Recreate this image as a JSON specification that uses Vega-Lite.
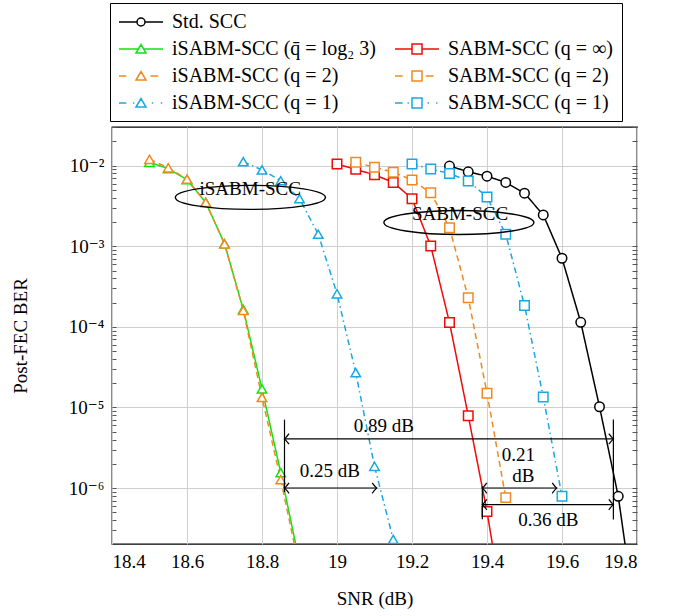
{
  "$schema": "https://vega.github.io/schema/vega-lite/v6.json",
  "width": 525,
  "height": 417,
  "autosize": "none",
  "padding": {"left": 112, "top": 127, "right": 44, "bottom": 72},
  "config": {
    "font": "Liberation Serif, DejaVu Serif, serif",
    "view": {"stroke": "black", "strokeWidth": 1.3},
    "axis": {"labelColor": "black", "titleColor": "black", "labelFont": "Liberation Serif, DejaVu Serif, serif", "titleFont": "Liberation Serif, DejaVu Serif, serif", "titleFontWeight": "normal"}
  },
  "datasets": {
    "series": [
      {"series": "Std. SCC", "snr": 19.3, "ber": 0.0099},
      {"series": "Std. SCC", "snr": 19.35, "ber": 0.0084},
      {"series": "Std. SCC", "snr": 19.4, "ber": 0.0074},
      {"series": "Std. SCC", "snr": 19.45, "ber": 0.0062},
      {"series": "Std. SCC", "snr": 19.5, "ber": 0.00455},
      {"series": "Std. SCC", "snr": 19.55, "ber": 0.00245},
      {"series": "Std. SCC", "snr": 19.6, "ber": 0.00071},
      {"series": "Std. SCC", "snr": 19.65, "ber": 0.000114},
      {"series": "Std. SCC", "snr": 19.7, "ber": 1.02e-5},
      {"series": "Std. SCC", "snr": 19.75, "ber": 7.9e-7},
      {"series": "Std. SCC", "snr": 19.8, "ber": 1.8e-8},
      {"series": "iSABM-SCC (q̄ = log₂ 3)", "snr": 18.5, "ber": 0.011},
      {"series": "iSABM-SCC (q̄ = log₂ 3)", "snr": 18.55, "ber": 0.0092},
      {"series": "iSABM-SCC (q̄ = log₂ 3)", "snr": 18.6, "ber": 0.0067},
      {"series": "iSABM-SCC (q̄ = log₂ 3)", "snr": 18.65, "ber": 0.0035},
      {"series": "iSABM-SCC (q̄ = log₂ 3)", "snr": 18.7, "ber": 0.00108},
      {"series": "iSABM-SCC (q̄ = log₂ 3)", "snr": 18.75, "ber": 0.000165},
      {"series": "iSABM-SCC (q̄ = log₂ 3)", "snr": 18.8, "ber": 1.7e-5},
      {"series": "iSABM-SCC (q̄ = log₂ 3)", "snr": 18.85, "ber": 1.55e-6},
      {"series": "iSABM-SCC (q̄ = log₂ 3)", "snr": 18.9, "ber": 1.2e-7},
      {"series": "iSABM-SCC (q = 2)", "snr": 18.5, "ber": 0.012},
      {"series": "iSABM-SCC (q = 2)", "snr": 18.55, "ber": 0.0094},
      {"series": "iSABM-SCC (q = 2)", "snr": 18.6, "ber": 0.0068},
      {"series": "iSABM-SCC (q = 2)", "snr": 18.65, "ber": 0.0035},
      {"series": "iSABM-SCC (q = 2)", "snr": 18.7, "ber": 0.00107},
      {"series": "iSABM-SCC (q = 2)", "snr": 18.75, "ber": 0.00016},
      {"series": "iSABM-SCC (q = 2)", "snr": 18.8, "ber": 1.33e-5},
      {"series": "iSABM-SCC (q = 2)", "snr": 18.85, "ber": 1.27e-6},
      {"series": "iSABM-SCC (q = 2)", "snr": 18.9, "ber": 1.0e-7},
      {"series": "iSABM-SCC (q = 1)", "snr": 18.75, "ber": 0.0112},
      {"series": "iSABM-SCC (q = 1)", "snr": 18.8, "ber": 0.00885},
      {"series": "iSABM-SCC (q = 1)", "snr": 18.85, "ber": 0.0065},
      {"series": "iSABM-SCC (q = 1)", "snr": 18.9, "ber": 0.0039},
      {"series": "iSABM-SCC (q = 1)", "snr": 18.95, "ber": 0.00141},
      {"series": "iSABM-SCC (q = 1)", "snr": 19.0, "ber": 0.000257},
      {"series": "iSABM-SCC (q = 1)", "snr": 19.05, "ber": 2.7e-5},
      {"series": "iSABM-SCC (q = 1)", "snr": 19.1, "ber": 1.86e-6},
      {"series": "iSABM-SCC (q = 1)", "snr": 19.15, "ber": 2.3e-7},
      {"series": "SABM-SCC (q = ∞)", "snr": 19.0, "ber": 0.0105},
      {"series": "SABM-SCC (q = ∞)", "snr": 19.05, "ber": 0.009},
      {"series": "SABM-SCC (q = ∞)", "snr": 19.1, "ber": 0.0077},
      {"series": "SABM-SCC (q = ∞)", "snr": 19.15, "ber": 0.0062},
      {"series": "SABM-SCC (q = ∞)", "snr": 19.2, "ber": 0.0039},
      {"series": "SABM-SCC (q = ∞)", "snr": 19.25, "ber": 0.00101},
      {"series": "SABM-SCC (q = ∞)", "snr": 19.3, "ber": 0.000113},
      {"series": "SABM-SCC (q = ∞)", "snr": 19.35, "ber": 7.9e-6},
      {"series": "SABM-SCC (q = ∞)", "snr": 19.4, "ber": 5.1e-7},
      {"series": "SABM-SCC (q = ∞)", "snr": 19.45, "ber": 2.0e-8},
      {"series": "SABM-SCC (q = 2)", "snr": 19.05, "ber": 0.011},
      {"series": "SABM-SCC (q = 2)", "snr": 19.1, "ber": 0.00955},
      {"series": "SABM-SCC (q = 2)", "snr": 19.15, "ber": 0.0083},
      {"series": "SABM-SCC (q = 2)", "snr": 19.2, "ber": 0.00665},
      {"series": "SABM-SCC (q = 2)", "snr": 19.25, "ber": 0.0046},
      {"series": "SABM-SCC (q = 2)", "snr": 19.3, "ber": 0.0017},
      {"series": "SABM-SCC (q = 2)", "snr": 19.35, "ber": 0.000229},
      {"series": "SABM-SCC (q = 2)", "snr": 19.4, "ber": 1.5e-5},
      {"series": "SABM-SCC (q = 2)", "snr": 19.45, "ber": 7.6e-7},
      {"series": "SABM-SCC (q = 1)", "snr": 19.2, "ber": 0.0105},
      {"series": "SABM-SCC (q = 1)", "snr": 19.25, "ber": 0.0091},
      {"series": "SABM-SCC (q = 1)", "snr": 19.3, "ber": 0.008},
      {"series": "SABM-SCC (q = 1)", "snr": 19.35, "ber": 0.00645},
      {"series": "SABM-SCC (q = 1)", "snr": 19.4, "ber": 0.0041},
      {"series": "SABM-SCC (q = 1)", "snr": 19.45, "ber": 0.00141},
      {"series": "SABM-SCC (q = 1)", "snr": 19.5, "ber": 0.000184},
      {"series": "SABM-SCC (q = 1)", "snr": 19.55, "ber": 1.35e-5},
      {"series": "SABM-SCC (q = 1)", "snr": 19.6, "ber": 7.9e-7}
    ],
    "ellipses": [
      {"x": 18.769, "y": 0.00404},
      {"x": 19.325, "y": 0.00197}
    ],
    "labels": [
      {"x": 19.125, "y": 5.83e-6, "t": "0.89 dB"},
      {"x": 18.981, "y": 1.61e-6, "t": "0.25 dB"},
      {"x": 19.4835, "y": 2.56e-6, "t": "0.21"},
      {"x": 19.497, "y": 1.43e-6, "t": "dB"},
      {"x": 19.5635, "y": 3.99e-7, "t": "0.36 dB"},
      {"x": 18.7685, "y": 0.00511, "t": "iSABM-SCC"},
      {"x": 19.328, "y": 0.00252, "t": "SABM-SCC"}
    ],
    "hrules": [
      {"x": 18.86, "x2": 19.737, "y": 4.07e-6},
      {"x": 18.86, "x2": 19.106, "y": 1.0e-6},
      {"x": 19.3875, "x2": 19.586, "y": 1.0e-6},
      {"x": 19.3875, "x2": 19.737, "y": 6.24e-7}
    ],
    "vrules": [
      {"x": 18.86, "y": 7.06e-6, "y2": 8.9e-7},
      {"x": 19.737, "y": 7.06e-6, "y2": 4.07e-7},
      {"x": 19.3875, "y": 1.05e-6, "y2": 4.1e-7}
    ]
  },
  "resolve": {"axis": {"y": "independent"}},
  "layer": [
    {
      "data": {"name": "series"},
      "mark": {"type": "line", "clip": true, "strokeWidth": 1.5},
      "encoding": {
        "x": {
          "field": "snr", "type": "quantitative",
          "scale": {"domain": [18.4, 19.8], "nice": false, "zero": false},
          "axis": {
            "values": [18.4, 18.6, 18.8, 19.0, 19.2, 19.4, 19.6, 19.8],
            "format": ".1~f",
            "title": "SNR (dB)",
            "titleFontSize": 19,
            "titlePadding": 18,
            "labelFontSize": 19,
            "labelPadding": 8,
            "tickSize": 0,
            "domain": false,
            "grid": true,
            "gridColor": "#cfcfcf",
            "gridWidth": 1
          }
        },
        "y": {
          "field": "ber", "type": "quantitative",
          "scale": {"type": "log", "domain": [2.02e-7, 0.0302], "nice": false},
          "axis": {
            "orient": "left",
            "values": [3e-7, 4e-7, 5e-7, 6e-7, 7e-7, 8e-7, 9e-7, 1e-6, 2e-6, 3e-6, 4e-6, 5e-6, 6e-6, 7e-6, 8e-6, 9e-6, 1e-5, 2e-5, 3e-5, 4e-5, 5e-5, 6e-5, 7e-5, 8e-5, 9e-5, 1e-4, 2e-4, 3e-4, 4e-4, 5e-4, 6e-4, 7e-4, 8e-4, 9e-4, 1e-3, 2e-3, 3e-3, 4e-3, 5e-3, 6e-3, 7e-3, 8e-3, 9e-3, 1e-2, 2e-2, 3e-2],
            "labelExpr": "abs(log(datum.value)/LN10 - round(log(datum.value)/LN10)) < 0.001 ? '10' + ['⁰','⁻¹','⁻²','⁻³','⁻⁴','⁻⁵','⁻⁶','⁻⁷'][-round(log(datum.value)/LN10)] : ''",
            "labelOverlap": false,
            "labelFontSize": 19,
            "labelPadding": 12,
            "title": "Post-FEC BER",
            "titleFontSize": 19,
            "titlePadding": 38,
            "tickSize": -4,
            "tickColor": "#555555",
            "tickWidth": 1,
            "domain": false,
            "grid": true,
            "gridColor": "#cfcfcf",
            "gridWidth": 1,
            "gridOpacity": {"condition": {"test": "abs(log(datum.value)/LN10 - round(log(datum.value)/LN10)) < 0.001", "value": 1}, "value": 0}
          }
        },
        "color": {
          "field": "series", "type": "nominal",
          "scale": {
            "domain": ["Std. SCC", " ", "iSABM-SCC (q̄ = log₂ 3)", "SABM-SCC (q = ∞)", "iSABM-SCC (q = 2)", "SABM-SCC (q = 2)", "iSABM-SCC (q = 1)", "SABM-SCC (q = 1)"],
            "range": ["#000000", "rgba(0,0,0,0)", "#14e014", "#f00a0a", "#f2891e", "#f2891e", "#1aa8e2", "#1aa8e2"]
          },
          "legend": {
            "orient": "none",
            "direction": "horizontal",
            "legendX": -2,
            "legendY": -124,
            "columns": 2,
            "gridAlign": "each",
            "title": null,
            "strokeColor": "black",
            "fillColor": "white",
            "padding": 8,
            "rowPadding": 6,
            "columnPadding": 16,
            "symbolSize": 400,
            "labelOffset": 32,
            "labelFontSize": 20,
            "labelFont": "Liberation Serif, DejaVu Serif, serif",
            "labelColor": "black",
            "labelLimit": 400,
            "encode": {
              "symbols": {
                "update": {
                  "shape": {"signal": "['M-1,0H0.8M1.6,0H3.4M0.8,0A0.4,0.4,0,1,1,1.6,0A0.4,0.4,0,1,1,0.8,0Z', 'M0,0', 'M-1,0H0.94M1.46,0H3.4M0.7,0.4L1.2,-0.45L1.7,0.4Z', 'M-1,0H0.7M1.7,0H3.4M0.7,-0.5H1.7V0.5H0.7Z', 'M-1,0H-0.27M2.15,0H2.92M0.7,0.4L1.2,-0.45L1.7,0.4Z', 'M-1,0H-0.23M2.08,0H2.85M0.7,-0.5H1.7V0.5H0.7Z', 'M-1,0H-0.27M0.4,0H0.54M2.28,0H2.42M3.18,0H3.32M0.7,0.4L1.2,-0.45L1.7,0.4Z', 'M-1,0H-0.23M0.25,0H0.39M2.25,0H2.39M3.11,0H3.25M0.7,-0.5H1.7V0.5H0.7Z'][datum.index]"},
                  "stroke": {"scale": "color", "field": "value"},
                  "fill": {"value": "white"},
                  "strokeWidth": {"value": 1.5},
                  "strokeDash": {"value": []},
                  "opacity": {"value": 1},
                  "size": {"value": 400}
                }
              },
              "legend": {"update": {"stroke": {"value": "black"}, "strokeWidth": {"value": 1}}}
            }
          }
        },
        "strokeDash": {
          "field": "series", "type": "nominal",
          "scale": {
            "domain": ["Std. SCC", "iSABM-SCC (q̄ = log₂ 3)", "SABM-SCC (q = ∞)", "iSABM-SCC (q = 2)", "SABM-SCC (q = 2)", "iSABM-SCC (q = 1)", "SABM-SCC (q = 1)"],
            "range": [[1, 0], [1, 0], [1, 0], [6, 4], [6, 4], [6, 3.5, 1.5, 3.5], [6, 3.5, 1.5, 3.5]]
          },
          "legend": null
        }
      }
    },
    {
      "data": {"name": "series"},
      "mark": {"type": "point", "clip": true, "filled": false, "fill": "white", "fillOpacity": 1, "opacity": 1, "strokeWidth": 1.5, "size": 90},
      "encoding": {
        "x": {"field": "snr", "type": "quantitative"},
        "y": {
          "field": "ber", "type": "quantitative",
          "axis": {
            "orient": "right",
            "values": [3e-7, 4e-7, 5e-7, 6e-7, 7e-7, 8e-7, 9e-7, 1e-6, 2e-6, 3e-6, 4e-6, 5e-6, 6e-6, 7e-6, 8e-6, 9e-6, 1e-5, 2e-5, 3e-5, 4e-5, 5e-5, 6e-5, 7e-5, 8e-5, 9e-5, 1e-4, 2e-4, 3e-4, 4e-4, 5e-4, 6e-4, 7e-4, 8e-4, 9e-4, 1e-3, 2e-3, 3e-3, 4e-3, 5e-3, 6e-3, 7e-3, 8e-3, 9e-3, 1e-2, 2e-2, 3e-2],
            "labels": false,
            "title": null,
            "tickSize": -5,
            "tickColor": "#555555",
            "tickWidth": 1,
            "domain": false,
            "grid": false
          }
        },
        "color": {"field": "series", "type": "nominal"},
        "shape": {
          "field": "series", "type": "nominal",
          "scale": {
            "domain": ["Std. SCC", "iSABM-SCC (q̄ = log₂ 3)", "SABM-SCC (q = ∞)", "iSABM-SCC (q = 2)", "SABM-SCC (q = 2)", "iSABM-SCC (q = 1)", "SABM-SCC (q = 1)"],
            "range": ["circle", "triangle-up", "square", "triangle-up", "square", "triangle-up", "square"]
          },
          "legend": null
        }
      }
    },
    {
      "data": {"name": "ellipses"},
      "mark": {"type": "point", "shape": "M-1,0A1,0.16,0,1,0,1,0A1,0.16,0,1,0,-1,0Z", "size": 22500, "filled": false, "stroke": "black", "strokeWidth": 1.4, "opacity": 1},
      "encoding": {
        "x": {"field": "x", "type": "quantitative"},
        "y": {"field": "y", "type": "quantitative", "axis": null}
      }
    },
    {
      "data": {"name": "hrules"},
      "mark": {"type": "rule", "color": "black", "strokeWidth": 1.2},
      "encoding": {
        "x": {"field": "x", "type": "quantitative"},
        "x2": {"field": "x2"},
        "y": {"field": "y", "type": "quantitative", "axis": null}
      }
    },
    {
      "data": {"name": "vrules"},
      "mark": {"type": "rule", "color": "black", "strokeWidth": 1.2},
      "encoding": {
        "x": {"field": "x", "type": "quantitative"},
        "y": {"field": "y", "type": "quantitative", "axis": null},
        "y2": {"field": "y2"}
      }
    },
    {
      "data": {"name": "hrules"},
      "mark": {"type": "point", "shape": "M1.3,-1.5Q0.4,-0.3,0,0Q0.4,0.3,1.3,1.5", "size": 49, "filled": false, "stroke": "black", "strokeWidth": 1.2, "opacity": 1},
      "encoding": {
        "x": {"field": "x", "type": "quantitative"},
        "y": {"field": "y", "type": "quantitative", "axis": null}
      }
    },
    {
      "data": {"name": "hrules"},
      "mark": {"type": "point", "shape": "M-1.3,-1.5Q-0.4,-0.3,0,0Q-0.4,0.3,-1.3,1.5", "size": 49, "filled": false, "stroke": "black", "strokeWidth": 1.2, "opacity": 1},
      "encoding": {
        "x": {"field": "x2", "type": "quantitative"},
        "y": {"field": "y", "type": "quantitative", "axis": null}
      }
    },
    {
      "data": {"name": "labels"},
      "mark": {"type": "text", "font": "Liberation Serif, DejaVu Serif, serif", "fontSize": 19, "color": "black", "align": "center", "baseline": "middle"},
      "encoding": {
        "x": {"field": "x", "type": "quantitative"},
        "y": {"field": "y", "type": "quantitative", "axis": null},
        "text": {"field": "t"}
      }
    }
  ]
}
